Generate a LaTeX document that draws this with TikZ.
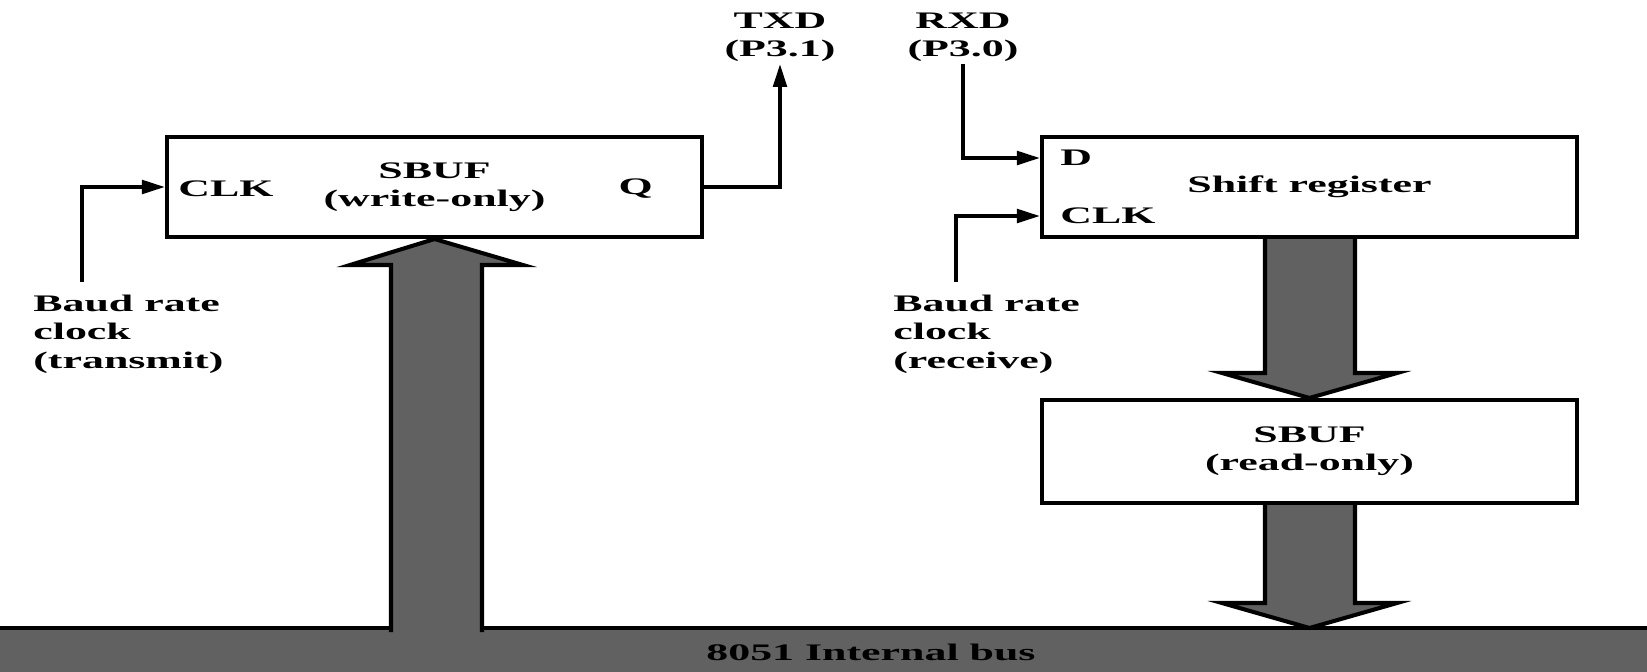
\documentclass[tikz,border=0pt]{standalone}
\usepackage{fontspec}
\setmainfont{Liberation Serif}[FakeStretch=1.85]
\usetikzlibrary{arrows.meta,positioning,calc,backgrounds}

\begin{document}
\begin{tikzpicture}[>={Triangle[length=0.46cm,width=0.27cm]},
    every node/.style={font=\bfseries\fontsize{13.5}{16}\selectfont},
    regbox/.style={draw, line width=2.3pt, minimum width=10.7cm,
                   minimum height=2.0cm, align=center},
    sig/.style={->, line width=2.1pt},
    bigarrow/.style={draw, line width=2.3pt, fill=black!62}]
  \useasboundingbox (0,0) rectangle (32.94,-13.42);

  % Registers
  \node[regbox] (sbufw) at (8.69,-3.74) {SBUF\\(write-only)};
  \node[regbox] (sreg) at (26.19,-3.74) {Shift register};
  \node[regbox, minimum height=2.06cm] (sbufr) at (26.19,-9.03) {SBUF\\(read-only)};

  % Pin labels inside the boxes
  \node[anchor=west, inner sep=0pt] (clkw) at (3.56,-3.78) {CLK};
  \node[anchor=east, inner sep=0pt] (qout) at (13.06,-3.78) {Q};
  \node[anchor=west, inner sep=0pt] (din) at (21.2,-3.16) {D};
  \node[anchor=west, inner sep=0pt] (clkr) at (21.2,-4.32) {CLK};

  % Port pins
  \node[align=center, inner sep=1pt] (txd) at (15.6,-0.75) {TXD\\(P3.1)};
  \node[align=center, inner sep=1pt] (rxd) at (19.26,-0.75) {RXD\\(P3.0)};

  % Baud rate clocks
  \node[anchor=north west, align=left, inner sep=0pt] (baudtx) at (0.66,-5.9)
    {Baud rate\\clock\\(transmit)};
  \node[anchor=north west, align=left, inner sep=0pt] (baudrx) at (17.86,-5.9)
    {Baud rate\\clock\\(receive)};
  \coordinate (tclk) at (1.64,-5.64);
  \coordinate (rclk) at (19.12,-5.64);

  % Signals
  \draw[sig] (tclk) |- (sbufw.west);
  \draw[sig] (sbufw.east) -| (txd.south);
  \draw[sig] (rxd.south) |- (din.west -| sreg.west);
  \draw[sig] (rclk) |- (clkr.west -| sreg.west);

  % Bus and data paths
  \begin{scope}[on background layer]
    \filldraw[bigarrow] (-0.1,-12.56) rectangle (33.04,-13.6);
    \filldraw[bigarrow] (7.82,-12.64) -- (7.82,-5.3) -- (7.0,-5.3) -- (sbufw.south)
      -- (10.46,-5.3) -- (9.64,-5.3) -- (9.64,-12.64);
    \filldraw[bigarrow] (25.3,-4.74) -- (25.3,-7.46) -- (24.44,-7.46) -- (sbufr.north)
      -- (27.94,-7.46) -- (27.1,-7.46) -- (27.1,-4.74);
    \filldraw[bigarrow] (25.3,-10.06) -- (25.3,-12.06) -- (24.44,-12.06) -- (26.19,-12.56)
      -- (27.94,-12.06) -- (27.1,-12.06) -- (27.1,-10.06);
  \end{scope}
  \node (busl) at (17.42,-13.04) {8051 Internal bus};
\end{tikzpicture}
\end{document}
